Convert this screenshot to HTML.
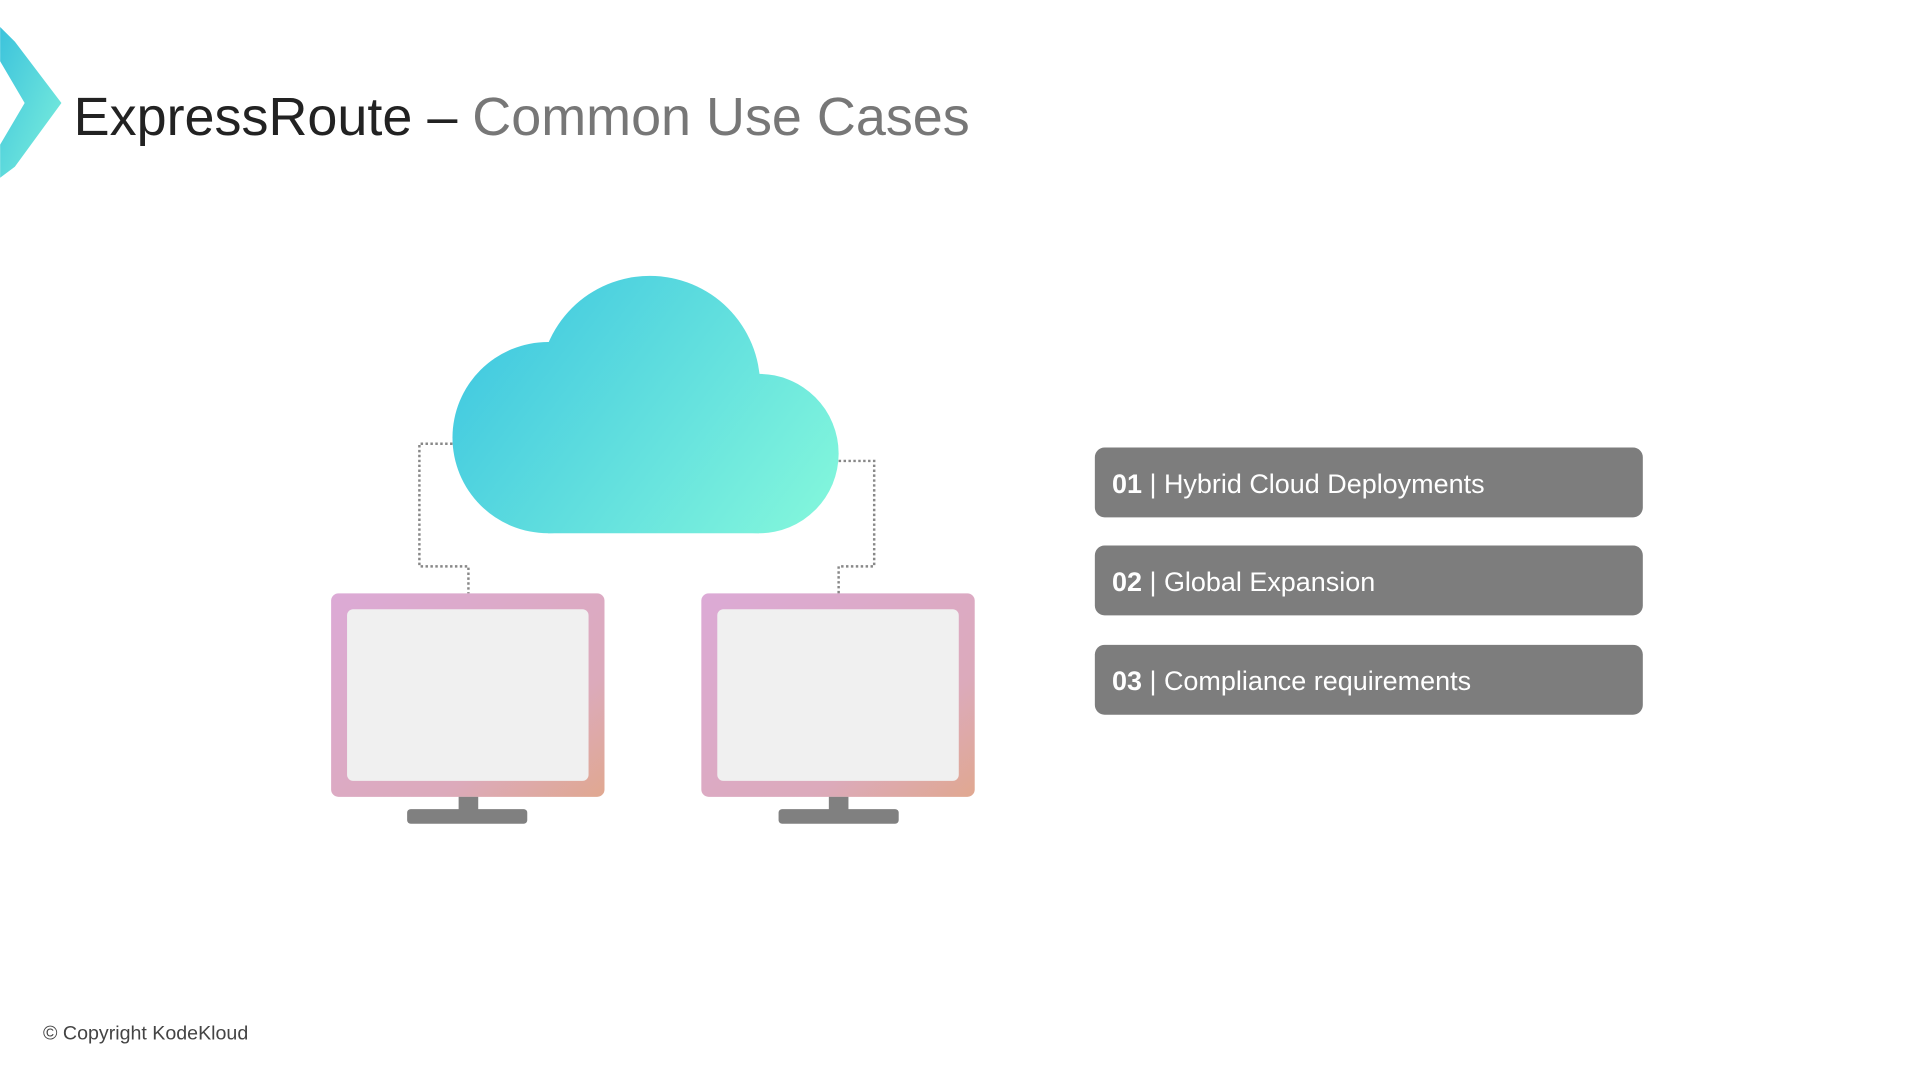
<!DOCTYPE html>
<html><head><meta charset="utf-8"><style>
html,body{margin:0;padding:0;background:#fff;}
svg{display:block;}
text{font-family:"Liberation Sans",sans-serif;}
</style></head><body>
<svg width="1920" height="1080" viewBox="0 0 1566 881" xmlns="http://www.w3.org/2000/svg">
<defs>
<linearGradient id="chev" x1="0" y1="0" x2="1" y2="1"><stop offset="0" stop-color="#3cc3dc"/><stop offset="1" stop-color="#7ef0dc"/></linearGradient>
<linearGradient id="cl" gradientUnits="userSpaceOnUse" x1="400" y1="240" x2="670" y2="440"><stop offset="0" stop-color="#40c8e0"/><stop offset="1" stop-color="#84f7dc"/></linearGradient>
<linearGradient id="mon" x1="0" y1="0" x2="1" y2="1"><stop offset="0" stop-color="#dcaad6"/><stop offset="0.7" stop-color="#dcaabb"/><stop offset="1" stop-color="#e0a890"/></linearGradient>
</defs>
<polygon points="0,22 12,34 50,84 12,136 0,145 0,118 20,84 0,50" fill="url(#chev)"/>
<text x="60" y="110" font-size="44" fill="#222">ExpressRoute –<tspan fill="#777"> Common Use Cases</tspan></text>
<g fill="none" stroke="#888" stroke-width="2" stroke-dasharray="2,2">
<polyline points="369,362 342,362 342,462 382,462 382,484"/>
<polyline points="684,376 713,376 713,462 684,462 684,484"/>
</g>
<g fill="url(#cl)">
<circle cx="530" cy="315" r="90"/>
<circle cx="447" cy="357" r="78"/>
<circle cx="619" cy="370" r="65"/>
<rect x="447" y="330" width="172" height="105"/>
</g>
<g>
<rect x="270" y="484" width="223" height="166" rx="6" fill="url(#mon)"/>
<rect x="283" y="497" width="197" height="140" rx="5" fill="#f0f0f0"/>
<rect x="374" y="650" width="16" height="12" fill="#808080"/>
<rect x="332" y="660" width="98" height="12" rx="3" fill="#808080"/>
<rect x="572" y="484" width="223" height="166" rx="6" fill="url(#mon)"/>
<rect x="585" y="497" width="197" height="140" rx="5" fill="#f0f0f0"/>
<rect x="676" y="650" width="16" height="12" fill="#808080"/>
<rect x="635" y="660" width="98" height="12" rx="3" fill="#808080"/>
</g>
<g font-size="22" fill="#fff">
<rect x="893" y="365" width="447" height="57" rx="8" fill="#7d7d7d"/>
<text x="907" y="402"><tspan font-weight="bold">01</tspan> | Hybrid Cloud Deployments</text>
<rect x="893" y="445" width="447" height="57" rx="8" fill="#7d7d7d"/>
<text x="907" y="482"><tspan font-weight="bold">02</tspan> | Global Expansion</text>
<rect x="893" y="526" width="447" height="57" rx="8" fill="#7d7d7d"/>
<text x="907" y="563"><tspan font-weight="bold">03</tspan> | Compliance requirements</text>
</g>
<text x="35" y="848" font-size="16" fill="#444">© Copyright KodeKloud</text>
</svg>
</body></html>
